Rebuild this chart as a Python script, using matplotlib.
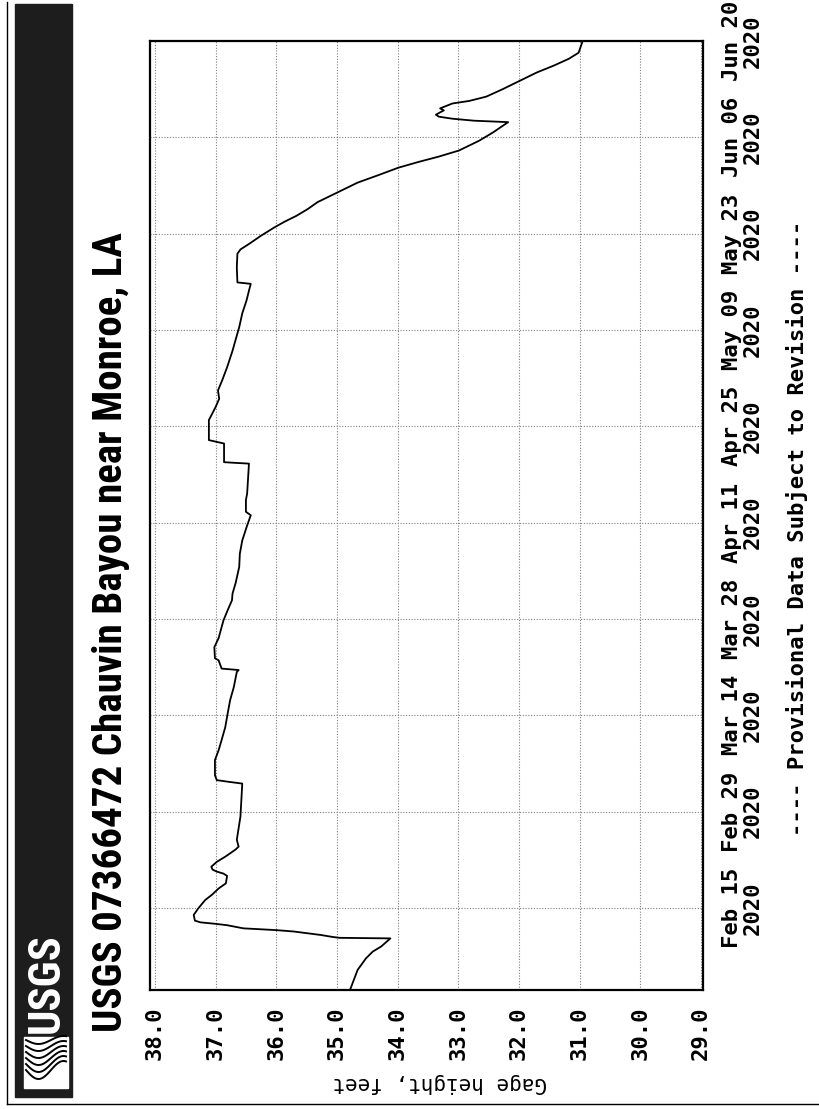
import numpy as np
import pandas as pd
import matplotlib
matplotlib.use("Agg")
import matplotlib.pyplot as plt
import matplotlib.dates as mdates
from matplotlib import font_manager as fm
from matplotlib.patches import Rectangle, Polygon

# Gage height record, USGS 07366472 Chauvin Bayou near Monroe, LA
obs_time = [
    "2020-02-03 05:00", "2020-02-06 00:00", "2020-02-07 17:00", "2020-02-08 16:00",
    "2020-02-09 10:00", "2020-02-10 14:00", "2020-02-10 16:00", "2020-02-10 19:00",
    "2020-02-11 02:00", "2020-02-11 14:00", "2020-02-11 19:00", "2020-02-12 01:00",
    "2020-02-12 12:00", "2020-02-12 17:00", "2020-02-12 22:00", "2020-02-13 04:00",
    "2020-02-14 00:00", "2020-02-15 00:00", "2020-02-16 04:00", "2020-02-16 22:00",
    "2020-02-17 20:00", "2020-02-18 14:00", "2020-02-19 16:00", "2020-02-20 00:00",
    "2020-02-20 07:00", "2020-02-20 14:00", "2020-02-21 00:00", "2020-02-21 17:00",
    "2020-02-22 11:00", "2020-02-23 12:00", "2020-02-23 22:00", "2020-02-24 22:00",
    "2020-02-28 07:00", "2020-03-04 02:00", "2020-03-04 08:00", "2020-03-04 14:00",
    "2020-03-05 07:00", "2020-03-07 12:00", "2020-03-08 22:00", "2020-03-10 10:00",
    "2020-03-12 07:00", "2020-03-14 07:00", "2020-03-16 05:00", "2020-03-18 02:00",
    "2020-03-20 07:00", "2020-03-20 14:00", "2020-03-20 19:00", "2020-03-22 00:00",
    "2020-03-22 07:00", "2020-03-23 22:00", "2020-03-25 05:00", "2020-03-27 19:00",
    "2020-03-29 07:00", "2020-03-30 17:00", "2020-03-31 17:00", "2020-04-02 05:00",
    "2020-04-04 14:00", "2020-04-06 12:00", "2020-04-08 10:00", "2020-04-10 14:00",
    "2020-04-12 02:00", "2020-04-12 14:00", "2020-04-14 07:00", "2020-04-15 05:00",
    "2020-04-18 02:00", "2020-04-19 14:00", "2020-04-19 17:00", "2020-04-19 19:00",
    "2020-04-22 12:00", "2020-04-23 00:00", "2020-04-25 22:00", "2020-04-26 10:00",
    "2020-04-27 19:00", "2020-04-29 00:00", "2020-04-30 05:00", "2020-05-01 17:00",
    "2020-05-03 14:00", "2020-05-06 00:00", "2020-05-08 12:00", "2020-05-09 10:00",
    "2020-05-11 10:00", "2020-05-13 07:00", "2020-05-14 17:00", "2020-05-15 17:00",
    "2020-05-15 22:00", "2020-05-18 02:00", "2020-05-20 02:00", "2020-05-20 17:00",
    "2020-05-21 12:00", "2020-05-22 17:00", "2020-05-23 22:00", "2020-05-24 17:00",
    "2020-05-25 14:00", "2020-05-26 14:00", "2020-05-27 14:00", "2020-05-29 00:00",
    "2020-05-30 10:00", "2020-05-31 12:00", "2020-06-01 14:00", "2020-06-02 10:00",
    "2020-06-03 05:00", "2020-06-04 02:00", "2020-06-05 12:00", "2020-06-06 17:00",
    "2020-06-08 05:00", "2020-06-08 10:00", "2020-06-08 17:00", "2020-06-09 00:00",
    "2020-06-09 07:00", "2020-06-09 22:00", "2020-06-10 05:00", "2020-06-10 22:00",
    "2020-06-11 07:00", "2020-06-11 22:00", "2020-06-13 00:00", "2020-06-14 05:00",
    "2020-06-15 10:00", "2020-06-16 10:00", "2020-06-17 10:00", "2020-06-18 07:00",
    "2020-06-19 19:00", "2020-06-20 00:00",
]
gage_ft = [
    34.78, 34.66, 34.52, 34.41, 34.27, 34.12, 34.96, 35.07,
    35.27, 35.71, 36.01, 36.54, 36.81, 37.01, 37.25, 37.34,
    37.36, 37.28, 37.17, 37.06, 36.95, 36.83, 36.81, 36.87,
    36.98, 37.05, 37.07, 36.98, 36.84, 36.67, 36.62, 36.65,
    36.59, 36.56, 36.78, 36.98, 37.01, 37.01, 36.95, 36.90,
    36.84, 36.80, 36.76, 36.70, 36.65, 36.62, 36.90, 36.95,
    37.01, 37.02, 36.95, 36.87, 36.80, 36.73, 36.72, 36.67,
    36.61, 36.60, 36.56, 36.48, 36.42, 36.50, 36.50, 36.48,
    36.46, 36.45, 36.71, 36.86, 36.86, 37.11, 37.11, 37.08,
    37.00, 36.94, 36.96, 36.89, 36.81, 36.72, 36.64, 36.61,
    36.56, 36.49, 36.45, 36.42, 36.64, 36.65, 36.64, 36.59,
    36.45, 36.25, 36.03, 35.87, 35.67, 35.48, 35.32, 34.99,
    34.66, 34.32, 33.99, 33.66, 33.32, 32.99, 32.66, 32.43,
    32.18, 32.74, 33.10, 33.32, 33.37, 33.24, 33.30, 33.10,
    32.82, 32.54, 32.27, 31.99, 31.71, 31.43, 31.18, 31.02,
    30.96, 30.96,
]

tick_dates = ["2020-02-15", "2020-02-29", "2020-03-14", "2020-03-28", "2020-04-11",
              "2020-04-25", "2020-05-09", "2020-05-23", "2020-06-06", "2020-06-20"]
tick_text = ["Feb 15\n2020", "Feb 29\n2020", "Mar 14\n2020", "Mar 28\n2020", "Apr 11\n2020",
             "Apr 25\n2020", "May 09\n2020", "May 23\n2020", "Jun 06\n2020", "Jun 20\n2020"]
gage_ticks = [38.0, 37.0, 36.0, 35.0, 34.0, 33.0, 32.0, 31.0, 30.0, 29.0]

title = "USGS 07366472 Chauvin Bayou near Monroe, LA"
footer = "---- Provisional Data Subject to Revision ----"

W, H = 820, 1109
mono = "DejaVu Sans Mono"


def narrow_font():
    # prefer a condensed sans; fall back to plain Liberation Sans
    for name in ["Liberation Sans Narrow", "Arial Narrow", "Roboto Condensed",
                 "Noto Sans Condensed", "Open Sans Condensed", "DejaVu Sans Condensed"]:
        try:
            fm.findfont(fm.FontProperties(family=name), fallback_to_default=False)
            return {"family": name}
        except ValueError:
            pass
    for name in ["Noto Sans", "DejaVu Sans", "Open Sans", "Roboto"]:
        path = fm.findfont(fm.FontProperties(family=name, stretch="condensed"))
        if "ondensed" in path or "Narrow" in path:
            return {"family": name, "stretch": "condensed"}
    return {"family": "Liberation Sans"}


narrow = narrow_font()

fig = plt.figure(figsize=(W / 100, H / 100), dpi=100)

# page layer in pixel units (y grows downward)
bg = fig.add_axes([0, 0, 1, 1], zorder=0)
bg.set_xlim(0, W)
bg.set_ylim(H, 0)
bg.axis("off")

bg.plot([7, 7], [2, 1104], color="black", lw=1.0)
bg.plot([7, 818], [1104, 1104], color="black", lw=1.0)

# dark header strip with logo
bg.add_patch(Rectangle((15, 4), 57, 1093, color="#1d1d1d"))
logo = bg.text(47, 983, "USGS", rotation=90, color="white", fontsize=34,
               fontweight="bold", ha="center", va="center", **narrow)
bg.add_patch(Polygon([(24, 1037), (68, 1037), (68, 1088), (24, 1088)],
                     closed=True, color="white"))
s = np.linspace(0, 1, 60)
for k in range(6):
    xs = 26 + s * 40
    ys = 1040 + k * 6 + 10 * np.sin(s * np.pi * 1.6) * (0.4 + 0.1 * k)
    bg.plot(xs, ys, color="black", lw=1.4)

head = bg.text(111, 632, title, rotation=90, fontsize=29, fontweight="bold",
               ha="center", va="center", **narrow)
bg.text(440, 1083, "Gage height, feet", rotation=180, fontsize=15,
        family=mono, ha="center", va="center")
bg.text(797, 528, footer, rotation=90, fontsize=16, family=mono,
        fontweight="bold", ha="center", va="center")

# hydrograph, drawn with time running up the page
ax = fig.add_axes([150 / W, 1 - 990 / H, 553 / W, 949 / H], zorder=1)
t = pd.to_datetime(obs_time)
ax.plot(gage_ft, mdates.date2num(t), color="black", lw=1.3, zorder=3)

ax.set_xlim(38.08, 28.97)
ax.set_ylim(mdates.date2num(pd.Timestamp("2020-02-03 02:00")),
            mdates.date2num(pd.Timestamp("2020-06-20")))

ax.set_xticks(gage_ticks)
ax.set_xticklabels([f"{v:.1f}" for v in gage_ticks], rotation=90, va="top",
                   ha="center", family=mono, fontweight="bold", fontsize=16)
ax.tick_params(axis="x", length=0, pad=12)

ax.yaxis.tick_right()
ax.set_yticks(mdates.date2num(pd.to_datetime(tick_dates)))
ax.set_yticklabels(tick_text, rotation=90, ha="left", va="center",
                   multialignment="center", family=mono, fontweight="bold",
                   fontsize=16, linespacing=1.0)
ax.tick_params(axis="y", length=0, pad=14)

ax.grid(True, color="#808080", linestyle=(0, (1, 1.5)), lw=0.8)
for sp in ax.spines.values():
    sp.set_linewidth(1.6)

# scale the vertical title and logo text to their run lengths
fig.canvas.draw()
for txt, length in [(head, 800), (logo, 100)]:
    ext = txt.get_window_extent()
    txt.set_fontsize(txt.get_fontsize() * length / ext.height)

fig.savefig("out.png", dpi=100)
